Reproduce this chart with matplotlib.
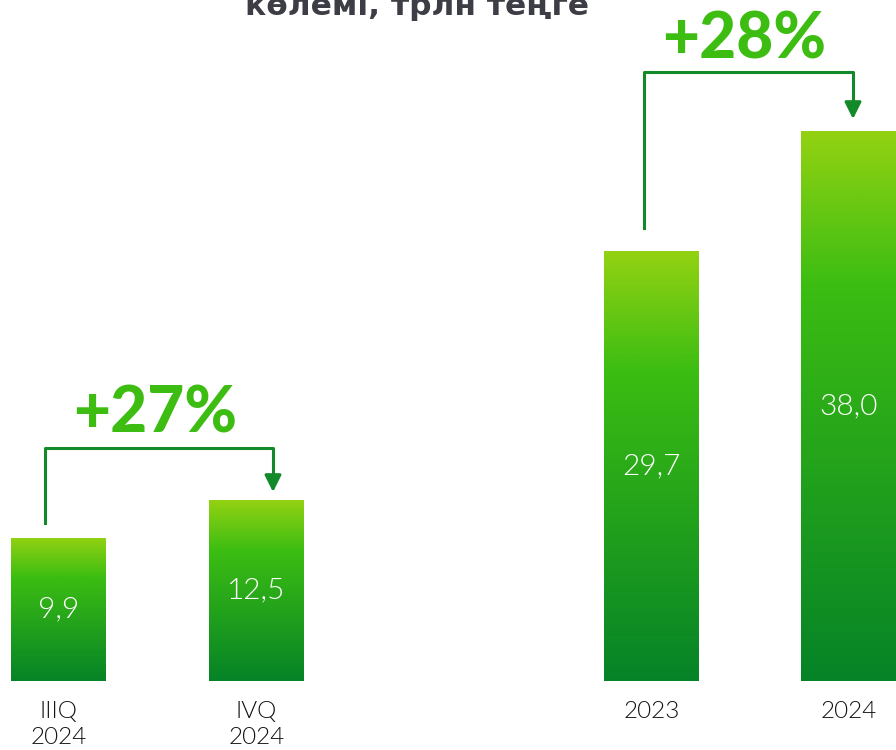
import matplotlib.pyplot as plt
import numpy as np
from matplotlib.colors import LinearSegmentedColormap

# data
labels = ["IIIQ\n2024", "IVQ\n2024", "2023", "2024"]
values = [9.9, 12.5, 29.7, 38.0]
value_text = ["9,9", "12,5", "29,7", "38,0"]
growth = ["+27%", "+28%"]
title = "көлемі, трлн теңге"

# layout (x in pixels, y in trillions)
xpos = [58.5, 256.5, 651.5, 848.5]
width = 95
green = "#3dbd12"
dark = "#128a2a"

cmap = LinearSegmentedColormap.from_list(
    "bar", [(0.0, "#068327"), (0.72, "#3cbd12"), (1.0, "#93d212")])

fig = plt.figure(figsize=(8.96, 7.5), dpi=100)
ax = fig.add_axes([0, 0, 1, 1])
scale = 14.47  # px per unit
ax.set_xlim(0, 896)
ax.set_ylim(-69 / scale, 681 / scale)
ax.axis("off")

grad = np.linspace(0, 1, 256).reshape(-1, 1)
for x, v, t, lab in zip(xpos, values, value_text, labels):
    x0, x1 = x - width / 2, x + width / 2
    bar = ax.bar(x, v, width=width, color="none", edgecolor="none")[0]
    im = ax.imshow(grad, cmap=cmap, origin="lower", aspect="auto",
                   extent=[x0, x1, 0, v], zorder=2)
    im.set_clip_path(bar)
    ax.text(x, v / 2, t, color="white", fontsize=21.5, family="Lato",
            fontweight=300, ha="center", va="center", zorder=3)
    ax.text(x, -20 / scale, lab, color="#111111", fontsize=17.5, family="Lato",
            fontweight=300, ha="center", va="top", linespacing=1.3)


def bracket(xa, ya, xb, yb, ytop, text, ytext):
    ax.plot([xa, xa, xb, xb], [ya, ytop, ytop, yb + 14 / scale],
            color=dark, lw=2.2, solid_joinstyle="round", zorder=3)
    ax.annotate("", xy=(xb, yb), xytext=(xb, yb + 17 / scale),
                arrowprops=dict(arrowstyle="-|>,head_length=1.0,head_width=0.5",
                                color=dark, lw=2.2, shrinkA=0, shrinkB=0))
    ax.text((xa + xb) / 2 - 4, ytext, text, color=green, fontsize=46,
            family="Lato", fontweight=900, ha="center", va="center")


bracket(45, (681 - 523) / scale, 273, (681 - 492) / scale, (681 - 448) / scale,
        growth[0], (681 - 414) / scale)
bracket(644, (681 - 228) / scale, 853, (681 - 119) / scale, (681 - 72) / scale,
        growth[1], (681 - 40) / scale)

ax.text(417, (681 - 15) / scale, title, color="#3d3d46", fontsize=22.5,
        fontweight="bold", ha="center", va="baseline", family="DejaVu Sans")

fig.savefig("out.png", dpi=100)
